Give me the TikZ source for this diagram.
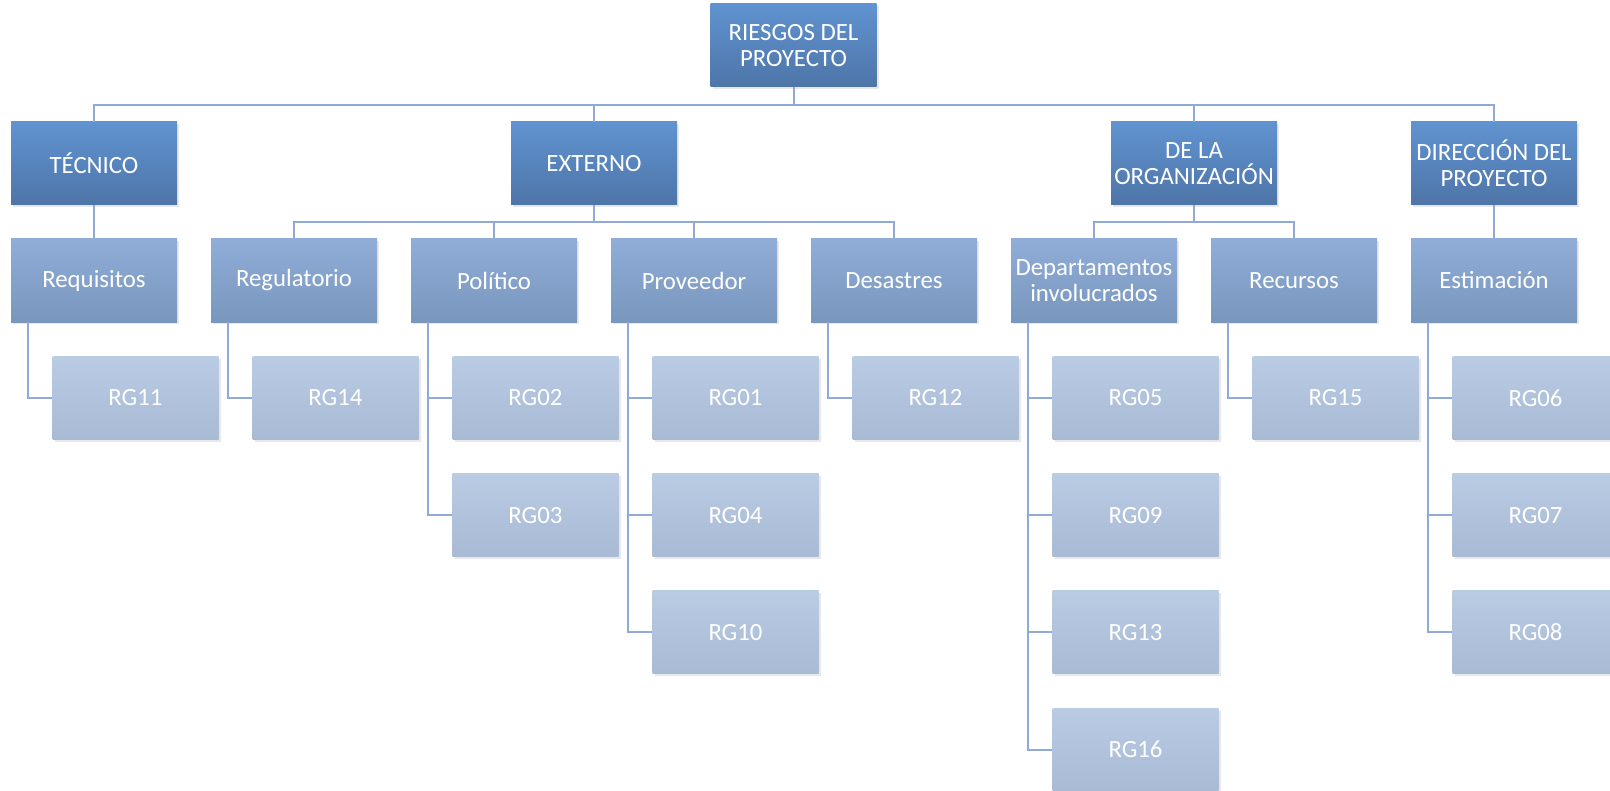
\documentclass[tikz,border=0pt]{standalone}
\usepackage{fontspec}
\setmainfont{Carlito}
\usetikzlibrary{shadows}
\definecolor{linkblue}{RGB}{143,170,215}
\definecolor{topA}{RGB}{96,147,208}
\definecolor{botA}{RGB}{78,117,168}
\definecolor{topB}{RGB}{143,173,215}
\definecolor{botB}{RGB}{121,150,189}
\definecolor{topC}{RGB}{186,203,228}
\definecolor{botC}{RGB}{168,186,212}
% one risk under a category: parent, row, number
\def\risk#1#2#3{\path (#1.center) ++(41.5,{117.3*(#2+1)}) node [leaf] (rg#3) {RG#3};
  \draw [link] ([xshift=8.5pt]#1.south west) |- (rg#3.west);}

\begin{document}
\begin{tikzpicture}[x=0.5pt,y=-0.5pt,
  box/.style={minimum width=83pt,minimum height=41.5pt,inner sep=1pt,align=center,
    text=white,font=\fontsize{12.4}{12.9}\selectfont,
    drop shadow={opacity=0.18,shadow xshift=1pt,shadow yshift=-1.2pt}},
  main/.style={box,top color=topA,bottom color=botA},
  sub/.style={box,top color=topB,bottom color=botB},
  leaf/.style={box,top color=topC,bottom color=botC},
  link/.style={draw=linkblue,line width=1pt}]
\useasboundingbox (0,0) rectangle (1610,791);
\clip (0,0) rectangle (1610,791);
\node [main] (root) at (793.5,45.5) {RIESGOS DEL\\PROYECTO};
\node [main] (tec) at (94,163.5) {TÉCNICO};
\node [main] (ext) at (594,163.5) {EXTERNO};
\node [main] (org) at (1194,163.5) {DE LA\\ORGANIZACIÓN};
\node [main] (dir) at (1494,163.5) {DIRECCIÓN DEL\\PROYECTO};
\foreach \n/\t [count=\i from 0] in {req/Requisitos,reg/Regulatorio,pol/Político,
    pro/Proveedor,des/Desastres,dep/{Departamentos\\involucrados},rec/Recursos,est/Estimación}
  \node [sub] (\n) at (94+200*\i,280.5) {\t};
% buses
\foreach \c in {tec,ext,org,dir} \draw [link] (root.south) -- ++(0,-9pt) -| (\c.north);
\foreach \c in {reg,pol,pro,des} \draw [link] (ext.south) -- ++(0,-8.5pt) -| (\c.north);
\foreach \c in {dep,rec} \draw [link] (org.south) -- ++(0,-8.5pt) -| (\c.north);
\draw [link] (tec) -- (req);
\draw [link] (dir) -- (est);
% risks
\risk{req}{0}{11}
\risk{reg}{0}{14}
\risk{pol}{0}{02} \risk{pol}{1}{03}
\risk{pro}{0}{01} \risk{pro}{1}{04} \risk{pro}{2}{10}
\risk{des}{0}{12}
\risk{dep}{0}{05} \risk{dep}{1}{09} \risk{dep}{2}{13} \risk{dep}{3}{16}
\risk{rec}{0}{15}
\risk{est}{0}{06} \risk{est}{1}{07} \risk{est}{2}{08}
\end{tikzpicture}
\end{document}
